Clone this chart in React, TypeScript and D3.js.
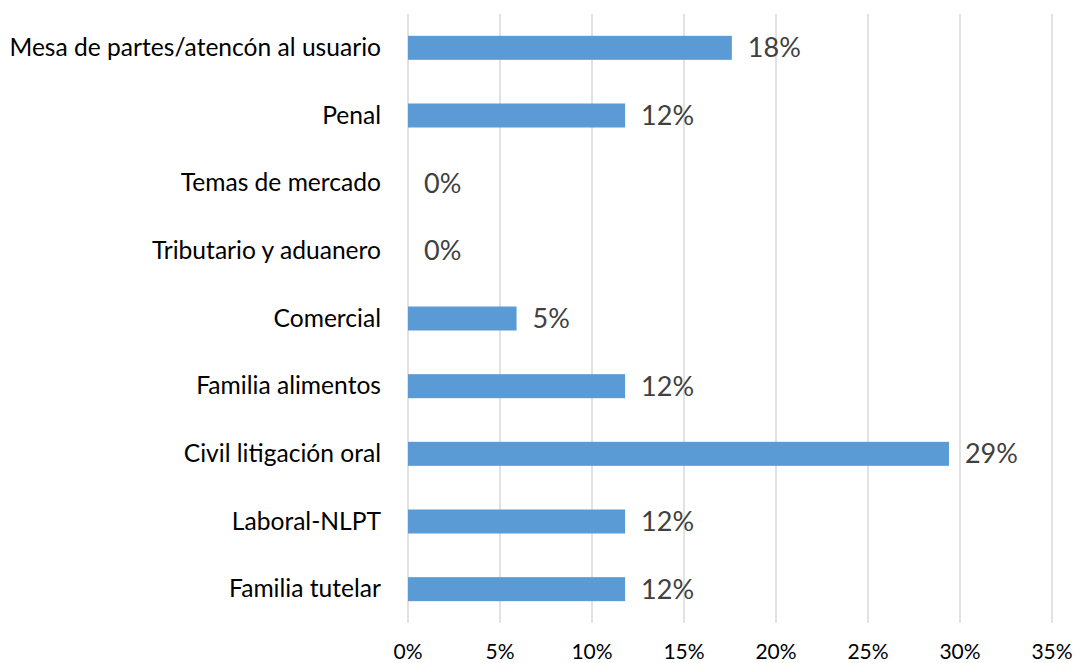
import React from 'react'
import * as d3 from 'd3'

// categories top to bottom, as in the chart
const categories = [
  'Mesa de partes/atencón al usuario',
  'Penal',
  'Temas de mercado',
  'Tributario y aduanero',
  'Comercial',
  'Familia alimentos',
  'Civil litigación oral',
  'Laboral-NLPT',
  'Familia tutelar',
]
const shares = [0.176, 0.118, 0, 0, 0.059, 0.118, 0.294, 0.118, 0.118]
const shareLabels = ['18%', '12%', '0%', '0%', '5%', '12%', '29%', '12%', '12%']
const ticks = [0, 0.05, 0.1, 0.15, 0.2, 0.25, 0.3, 0.35]

const W = 1075
const H = 663
const FONT = 'Lato, "Open Sans", sans-serif'

function App() {
  const x = d3.scaleLinear().domain([0, 0.35]).range([408, 1052])
  const y = d3.scaleBand<string>().domain(categories).range([14, 623])
  const barH = 24

  return (
    <svg width={W} height={H} style={{ position: 'absolute', left: 0, top: 0 }}>
      <rect width={W} height={H} fill="#fff" />
      {ticks.map((t) => (
        <g key={t}>
          <line x1={x(t)} x2={x(t)} y1={14} y2={623} stroke="#d9d9d9" strokeWidth={1.5} />
          <text x={x(t)} y={659} textAnchor="middle" fontFamily={FONT} fontSize={21} fill="#000">
            {d3.format('.0%')(t)}
          </text>
        </g>
      ))}
      {categories.map((c, i) => {
        const cy = (y(c) ?? 0) + y.bandwidth() / 2
        return (
          <g key={c}>
            <text x={381} y={cy + 8} textAnchor="end" fontFamily={FONT} fontSize={24.6} fill="#000">
              {c}
            </text>
            {shares[i] > 0 && (
              <rect x={x(0)} y={cy - barH / 2} width={x(shares[i]) - x(0)} height={barH} fill="#5b9bd5" />
            )}
            <text x={x(shares[i]) + 16} y={cy + 9.5} fontFamily={FONT} fontSize={27} fill="#404040">
              {shareLabels[i]}
            </text>
          </g>
        )
      })}
    </svg>
  )
}

export default App
